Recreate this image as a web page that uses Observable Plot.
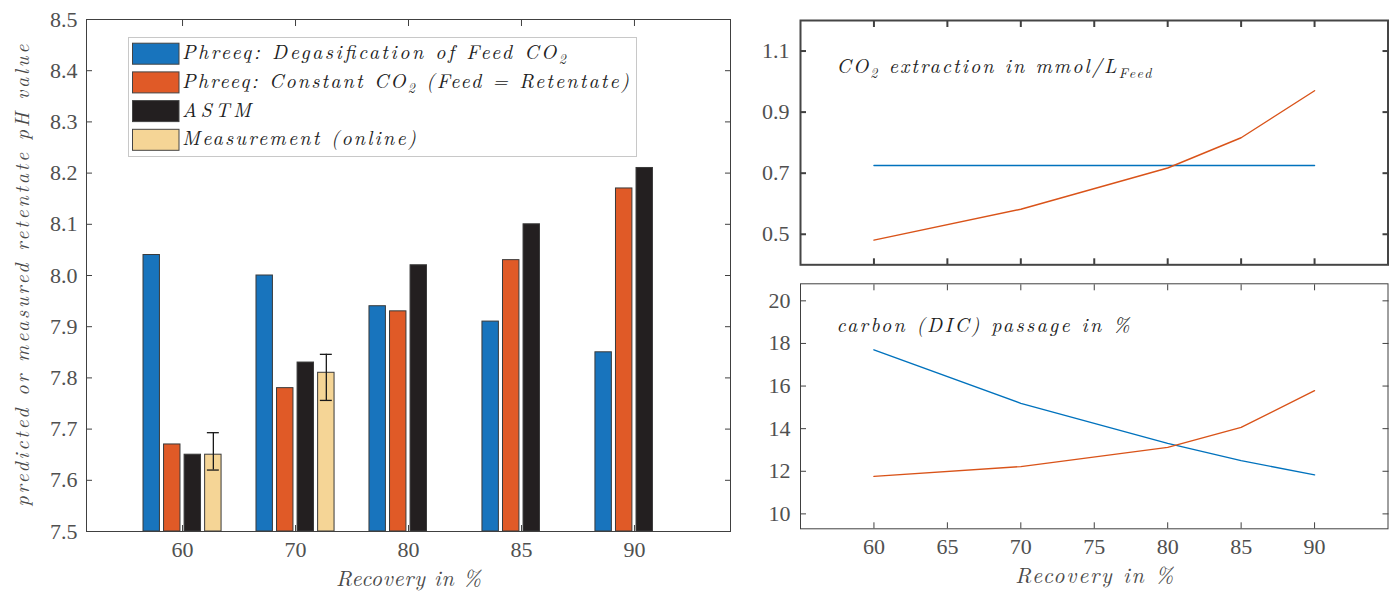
<!DOCTYPE html>
<html>
<head>
<meta charset="utf-8">
<script src="https://cdn.jsdelivr.net/npm/d3@7"></script>
<script src="https://cdn.jsdelivr.net/npm/@observablehq/plot@0.6"></script>
<style>
  body { margin: 0; background: #fff; }
  #wrap { position: relative; width: 1394px; height: 597px; overflow: hidden; background: #fff; }
  #wrap > svg { position: absolute; }
</style>
</head>
<body>
<div id="wrap"></div>
<script>
// ---------------- data ----------------
const recovery = ["60", "70", "80", "85", "90"];
const seriesNames = [
  "Phreeq: Degasification of Feed CO2",
  "Phreeq: Constant CO2 (Feed = Retentate)",
  "ASTM",
  "Measurement (online)"
];
const phDegas    = [8.04, 8.00, 7.94, 7.91, 7.85];
const phConstant = [7.67, 7.78, 7.93, 8.03, 8.17];
const phASTM     = [7.65, 7.83, 8.02, 8.10, 8.21];
const phMeasured = [7.65, 7.81, null, null, null];
const phMeasLow  = [7.62, 7.756, null, null, null];
const phMeasHigh = [7.693, 7.846, null, null, null];

const recoveryPct = [60, 70, 80, 85, 90];
const lineSeries  = ["Degasification of Feed CO2", "Constant CO2"];
const co2Degas    = [0.725, 0.725, 0.725, 0.725, 0.725];
const co2Constant = [0.481, 0.582, 0.717, 0.816, 0.970];
const dicDegas    = [17.70, 15.19, 13.31, 12.50, 11.83];
const dicConstant = [11.76, 12.22, 13.12, 14.06, 15.78];

const phTicks  = [7.5, 7.6, 7.7, 7.8, 7.9, 8.0, 8.1, 8.2, 8.3, 8.4, 8.5];
const co2Ticks = [0.5, 0.7, 0.9, 1.1];
const dicTicks = [10, 12, 14, 16, 18, 20];
const recTicks = [60, 65, 70, 75, 80, 85, 90];

const yLabelText = "predicted or measured retentate pH value";
const xLabelText = "Recovery in %";
const co2Note = "CO2 extraction in mmol/LFeed";
const dicNote = "carbon (DIC) passage in %";

// ---------------- styles ----------------
const barColors  = ["#1874BD", "#E05A27", "#231F20", "#F5D596"];
const lineColors = ["#0072BD", "#D95319"];
const axisColor  = "#404040";
const tickColor  = "#505050";
const tickFont  = "Liberation Serif, Times New Roman, serif";
const latexFont = "Latin Modern Roman, Liberation Serif, serif";

// ---------------- tables ----------------
const bars = [];
[phDegas, phConstant, phASTM, phMeasured].forEach((vals, s) =>
  vals.forEach((v, g) => { if (v != null) bars.push({group: g + 1, s, series: seriesNames[s], value: v}); }));
const errs = recovery
  .map((r, g) => ({group: g + 1, s: 3, low: phMeasLow[g], high: phMeasHigh[g]}))
  .filter(d => d.low != null);

const nSeries = 4;
const slot = (nSeries / (nSeries + 1.5)) / nSeries;   // MATLAB grouped-bar slot
const barWidth = 0.8 * slot;
const xPos = d => d.group + (d.s - (nSeries - 1) / 2) * slot;
const capHalf = 0.053;

const co2Data = recoveryPct.flatMap((r, i) => [
  {r, v: co2Degas[i], series: lineSeries[0]},
  {r, v: co2Constant[i], series: lineSeries[1]}
]);
const dicData = recoveryPct.flatMap((r, i) => [
  {r, v: dicDegas[i], series: lineSeries[0]},
  {r, v: dicConstant[i], series: lineSeries[1]}
]);

const wrap = document.getElementById("wrap");
const baseStyle = {background: "transparent", color: axisColor, fontFamily: tickFont, fontSize: "22px", overflow: "visible"};

function inwardTicksY(ticks, sw) {
  return [
    Plot.axisY(ticks, {anchor: "left", tickSize: 6, dx: 6, fill: "none", label: null, strokeWidth: sw}),
    Plot.axisY(ticks, {anchor: "right", tickSize: 6, dx: -6, fill: "none", label: null, strokeWidth: sw})
  ];
}
function inwardTicksX(ticks, sw) {
  return [
    Plot.axisX(ticks, {anchor: "bottom", tickSize: 6, dy: -6, fill: "none", label: null, strokeWidth: sw}),
    Plot.axisX(ticks, {anchor: "top", tickSize: 6, dy: 6, fill: "none", label: null, strokeWidth: sw})
  ];
}

// ---------------- left: bar chart ----------------
const left = Plot.plot({
  width: 740, height: 597,
  marginLeft: 86, marginRight: 10, marginTop: 19, marginBottom: 66,
  style: baseStyle,
  x: {type: "linear", domain: [0.15, 5.85]},
  y: {domain: [7.5, 8.5]},
  color: {domain: seriesNames, range: barColors},
  marks: [
    Plot.rect(bars, {
      x1: d => xPos(d) - barWidth / 2, x2: d => xPos(d) + barWidth / 2,
      y1: 7.5, y2: "value", fill: "series", stroke: "#3a3a3a", strokeWidth: 1
    }),
    Plot.ruleX(errs, {x: xPos, y1: "low", y2: "high", stroke: "#1a1a1a", strokeWidth: 1.3}),
    Plot.ruleY(errs, {y: "low", x1: d => xPos(d) - capHalf, x2: d => xPos(d) + capHalf, stroke: "#1a1a1a", strokeWidth: 1.3}),
    Plot.ruleY(errs, {y: "high", x1: d => xPos(d) - capHalf, x2: d => xPos(d) + capHalf, stroke: "#1a1a1a", strokeWidth: 1.3}),
    Plot.frame({stroke: axisColor, strokeWidth: 1}),
    Plot.axisY(phTicks, {anchor: "left", tickSize: 0, tickPadding: 9, tickFormat: d3.format(".1f"), label: null, fill: tickColor, fontSize: 22}),
    ...inwardTicksY(phTicks, 1),
    Plot.axisX([1, 2, 3, 4, 5], {anchor: "bottom", tickSize: 0, tickPadding: 10, tickFormat: i => recovery[i - 1], label: null, fill: tickColor, fontSize: 22}),
    ...inwardTicksX([1, 2, 3, 4, 5], 1),
    Plot.text([xLabelText], {text: d => d, frameAnchor: "bottom", dy: 54, fontSize: 22, fontStyle: "italic", fontFamily: latexFont, fill: "#4a4a4a"}),
    Plot.text([yLabelText], {text: d => d, frameAnchor: "left", textAnchor: "middle", dx: -64, rotate: -90, fontSize: 20, fontStyle: "italic", fontFamily: latexFont, fill: "#4a4a4a"})
  ]
});
left.style.left = "0px"; left.style.top = "0px";
wrap.appendChild(left);

// ---------------- right top: CO2 extraction ----------------
const rightTop = Plot.plot({
  width: 654, height: 280,
  marginLeft: 60, marginRight: 6.5, marginTop: 20, marginBottom: 15.7,
  style: baseStyle,
  x: {domain: [55, 95]},
  y: {domain: [0.4, 1.2]},
  color: {domain: lineSeries, range: lineColors},
  marks: [
    Plot.line(co2Data, {x: "r", y: "v", z: "series", stroke: "series", strokeWidth: 1.4}),
    Plot.frame({stroke: "#454545", strokeWidth: 2}),
    Plot.axisY(co2Ticks, {anchor: "left", tickSize: 0, tickPadding: 11, tickFormat: d3.format(".1f"), label: null, fill: tickColor, fontSize: 22}),
    ...inwardTicksY(co2Ticks, 2),
    ...inwardTicksX(recTicks, 2),
    Plot.text([co2Note], {text: d => d, frameAnchor: "top-left", dx: 36, dy: 38, textAnchor: "start", fontSize: 20, fontStyle: "italic", fontFamily: latexFont, fill: "#222"})
  ]
});
rightTop.style.left = "740px"; rightTop.style.top = "0px";
wrap.appendChild(rightTop);

// ---------------- right bottom: DIC passage ----------------
const rightBottom = Plot.plot({
  width: 654, height: 327,
  marginLeft: 60, marginRight: 6.5, marginTop: 13.3, marginBottom: 68.7,
  style: baseStyle,
  x: {domain: [55, 95]},
  y: {domain: [9.3, 20.8]},
  color: {domain: lineSeries, range: lineColors},
  marks: [
    Plot.line(dicData, {x: "r", y: "v", z: "series", stroke: "series", strokeWidth: 1.4}),
    Plot.frame({stroke: axisColor, strokeWidth: 1}),
    Plot.axisY(dicTicks, {anchor: "left", tickSize: 0, tickPadding: 10, label: null, fill: tickColor, fontSize: 22}),
    ...inwardTicksY(dicTicks, 1),
    Plot.axisX(recTicks, {anchor: "bottom", tickSize: 0, tickPadding: 10, label: null, fill: tickColor, fontSize: 22}),
    ...inwardTicksX(recTicks, 1),
    Plot.text([dicNote], {text: d => d, frameAnchor: "top-left", dx: 36, dy: 34, textAnchor: "start", fontSize: 20, fontStyle: "italic", fontFamily: latexFont, fill: "#222"}),
    Plot.text([xLabelText], {text: d => d, frameAnchor: "bottom", dy: 54, fontSize: 22, fontStyle: "italic", fontFamily: latexFont, fill: "#4a4a4a"})
  ]
});
rightBottom.style.left = "740px"; rightBottom.style.top = "270px";
wrap.appendChild(rightBottom);

// tick labels: force the serif face
d3.selectAll("#wrap g[aria-label$='tick label'] text").style("font-family", tickFont).style("font-variant", "normal");

// ---------------- legend (uses the bar chart's color scale) ----------------
const colorScale = left.scale("color");
const legW = 508, legH = 119, rowPitch = 28.7;
const legendWidths = [384, 447, 69, 234];
const legend = d3.create("svg").attr("width", legW + 1).attr("height", legH + 1)
  .style("left", "128px").style("top", "37px");
legend.append("rect").attr("x", 0.5).attr("y", 0.5).attr("width", legW).attr("height", legH)
  .attr("fill", "#fff").attr("stroke", "#c8c8c8");
const rows = legend.selectAll("g").data(seriesNames).join("g")
  .attr("transform", (d, i) => `translate(0,${5.7 + i * rowPitch})`);
rows.append("rect").attr("x", 4.5).attr("y", 0.5).attr("width", 46.5).attr("height", 21)
  .attr("fill", d => colorScale.apply(d)).attr("stroke", "#444").attr("stroke-width", 1);
rows.append("text").attr("x", 54).attr("y", 16.5)
  .attr("font-family", latexFont).attr("font-style", "italic").attr("font-size", 20).attr("fill", "#222")
  .text(d => d);
wrap.appendChild(legend.node());

// ---------------- rich text (subscripts, LaTeX-like widths) ----------------
function richText(root, match, parts, opts) {
  d3.select(root).selectAll("text").filter(function() { return this.textContent === match; }).each(function() {
    const t = d3.select(this);
    t.style("font-family", latexFont).style("font-style", "italic");
    if (parts) {
      t.text(null);
      let shifted = false;
      parts.forEach(([str, sub]) => {
        const ts = t.append("tspan").text(str);
        if (sub) {
          ts.attr("font-size", opts.subSize);
          if (!shifted) { ts.attr("dy", opts.subShift); shifted = true; }
        } else if (shifted) { ts.attr("dy", -opts.subShift); shifted = false; }
      });
    }
    if (opts.length) t.attr("textLength", opts.length).attr("lengthAdjust", "spacing");
  });
}
const sub = {subSize: 14, subShift: 5};
richText(legend.node(), seriesNames[0], [["Phreeq: Degasification of Feed CO", false], ["2", true]], {...sub, length: legendWidths[0]});
richText(legend.node(), seriesNames[1], [["Phreeq: Constant CO", false], ["2", true], [" (Feed = Retentate)", false]], {...sub, length: legendWidths[1]});
richText(legend.node(), seriesNames[2], null, {length: legendWidths[2]});
richText(legend.node(), seriesNames[3], null, {length: legendWidths[3]});
richText(rightTop, co2Note, [["CO", false], ["2", true], [" extraction in mmol/L", false], ["Feed", true]], {...sub, length: 315});
richText(rightBottom, dicNote, null, {length: 293});
richText(left, xLabelText, null, {length: 145});
richText(rightBottom, xLabelText, null, {length: 158});
richText(left, yLabelText, null, {length: 462});
</script>
</body>
</html>
